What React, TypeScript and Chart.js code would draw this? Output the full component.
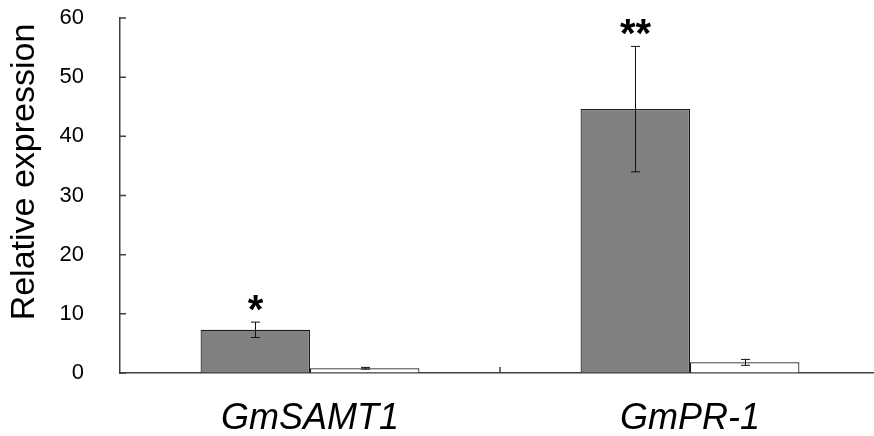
import React, { useEffect, useRef } from "react";
import { Chart, registerables } from "chart.js";

Chart.register(...registerables);

const categories = ["GmSAMT1", "GmPR-1"];
const treatedValues = [7.3, 44.6];
const treatedErrors = [1.3, 10.6];
const controlValues = [0.8, 1.8];
const controlErrors = [0.15, 0.5];
const significance = ["*", "**"];
const yTickValues = [0, 10, 20, 30, 40, 50, 60];
const yTitle = "Relative expression";

const FONT = "'Liberation Sans', Arial, Helvetica, sans-serif";

const overlayPlugin = {
  id: "overlay",
  afterDatasetsDraw(chart: any) {
    const ctx = chart.ctx;
    const yScale = chart.scales.y;
    const xScale = chart.scales.x;
    const area = chart.chartArea;
    ctx.save();
    const errs = [treatedErrors, controlErrors];
    const vals = [treatedValues, controlValues];
    [0, 1].forEach((di) => {
      const meta = chart.getDatasetMeta(di);
      meta.data.forEach((el: any, i: number) => {
        const x = Math.round(el.x) + 0.5;
        const top = yScale.getPixelForValue(vals[di][i] + errs[di][i]);
        const bot = yScale.getPixelForValue(vals[di][i] - errs[di][i]);
        ctx.strokeStyle = "#111";
        ctx.lineWidth = 1;
        ctx.beginPath();
        ctx.moveTo(x, top);
        ctx.lineTo(x, bot);
        ctx.moveTo(x - 4.5, top);
        ctx.lineTo(x + 4.5, top);
        ctx.moveTo(x - 4.5, bot);
        ctx.lineTo(x + 4.5, bot);
        ctx.stroke();
        if (di === 0) {
          ctx.fillStyle = "#000";
          ctx.font = `bold 40px ${FONT}`;
          ctx.textAlign = "center";
          ctx.textBaseline = "alphabetic";
          ctx.fillText(significance[i], x, top + 1);
        }
      });
    });
    ctx.strokeStyle = "#404040";
    ctx.lineWidth = 1.5;
    ctx.beginPath();
    yTickValues.forEach((v) => {
      const y = yScale.getPixelForValue(v);
      ctx.moveTo(area.left, y);
      ctx.lineTo(area.left + 6, y);
    });
    for (let i = 0; i < categories.length - 1; i++) {
      const xb = (xScale.getPixelForValue(i) + xScale.getPixelForValue(i + 1)) / 2;
      ctx.moveTo(xb, area.bottom);
      ctx.lineTo(xb, area.bottom - 6);
    }
    ctx.stroke();
    ctx.fillStyle = "#000";
    ctx.font = `34px ${FONT}`;
    ctx.textAlign = "center";
    ctx.textBaseline = "middle";
    ctx.translate(25, 172);
    ctx.rotate(-Math.PI / 2);
    ctx.fillText(yTitle, 0, 0);
    ctx.restore();
  },
};

export default function App() {
  const ref = useRef<HTMLCanvasElement>(null);
  useEffect(() => {
    document.body.style.margin = "0";
    const chart = new Chart(ref.current as HTMLCanvasElement, {
      type: "bar",
      data: {
        labels: categories,
        datasets: [
          {
            data: treatedValues,
            backgroundColor: "#808080",
            borderColor: "#1a1a1a",
            borderWidth: 1.2,
            barPercentage: 1,
            categoryPercentage: 0.576,
          },
          {
            data: controlValues,
            backgroundColor: "#ffffff",
            borderColor: "#1a1a1a",
            borderWidth: 1.2,
            barPercentage: 1,
            categoryPercentage: 0.576,
          },
        ],
      },
      options: {
        responsive: false,
        animation: false,
        devicePixelRatio: 1,
        layout: { padding: { left: 0, right: 2, top: 18, bottom: 0 } },
        plugins: { legend: { display: false }, tooltip: { enabled: false } },
        scales: {
          x: {
            grid: { display: true, drawOnChartArea: false, drawTicks: false },
            border: { display: true, color: "#404040", width: 1.5 },
            ticks: {
              color: "#000",
              padding: 24,
              font: { family: FONT, size: 36, style: "italic" },
            },
            afterFit: (s: any) => {
              s.height = 63;
            },
          },
          y: {
            min: 0,
            max: 60,
            grid: { display: true, drawOnChartArea: false, drawTicks: false },
            border: { display: true, color: "#404040", width: 1.5 },
            ticks: {
              stepSize: 10,
              color: "#000",
              padding: 36,
              font: { family: FONT, size: 22 },
            },
            afterFit: (s: any) => {
              s.width = 120;
              s.paddingTop = 0;
              s.paddingBottom = 0;
            },
          },
        },
      },
      plugins: [overlayPlugin],
    });
    return () => chart.destroy();
  }, []);
  return (
    <div style={{ width: 874, height: 436, overflow: "hidden", background: "#fff" }}>
      <canvas ref={ref} width={882} height={436} />
    </div>
  );
}
